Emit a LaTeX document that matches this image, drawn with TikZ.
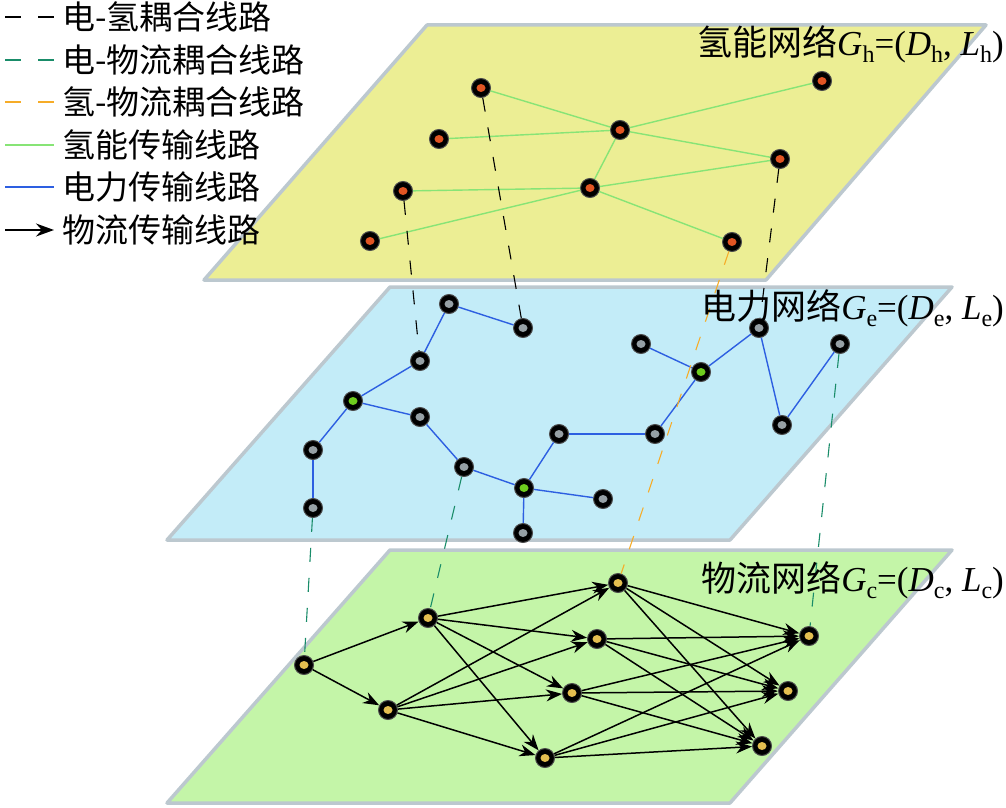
\documentclass[tikz,border=0pt]{standalone}
\usepackage{fontspec}
\setmainfont{Liberation Serif}
\newfontfamily\cjk{Noto Sans CJK SC}
\usetikzlibrary{arrows.meta}
\definecolor{hplane}{RGB}{236,238,148}
\definecolor{eplane}{RGB}{195,236,248}
\definecolor{cplane}{RGB}{196,245,168}
\definecolor{rimgray}{RGB}{188,200,207}
\definecolor{hgreen}{RGB}{135,228,118}
\definecolor{eblue}{RGB}{45,95,225}
\definecolor{tealc}{RGB}{25,140,105}
\definecolor{orangec}{RGB}{246,172,40}
\definecolor{hcore}{RGB}{225,85,35}
\definecolor{ecore}{RGB}{150,160,165}
\definecolor{egreen}{RGB}{110,205,30}
\definecolor{ccore}{RGB}{228,190,80}
\newcommand\lsub[1]{\raisebox{-7pt}{\fontsize{24}{24}\selectfont #1}}
\tikzset{
  plane/.style={draw=rimgray, line width=3.5pt, line join=round},
  dot/.style={circle, fill=black, draw=black!70, line width=1pt, inner sep=0pt, minimum size=19pt,
    path picture={\fill[#1] (path picture bounding box.center) ellipse (4.5pt and 4pt);}},
  hdot/.style={dot=hcore},
  edot/.style={dot=ecore},
  cdot/.style={dot=ccore},
  hline/.style={hgreen, line width=1.4pt},
  eline/.style={eblue, line width=1.4pt},
  cline/.style={black, line width=1.5pt, -{Stealth[length=16pt,width=12pt]}},
  ehlink/.style={black, line width=1.1pt, dash pattern=on 14pt off 16pt},
  eclink/.style={tealc, line width=1.1pt, dash pattern=on 14pt off 16pt},
  hclink/.style={orangec, line width=1.1pt, dash pattern=on 14pt off 16pt},
  lgtext/.style={anchor=west, inner sep=0pt, font=\cjk\fontsize{33}{38}\selectfont},
  netlabel/.style={anchor=east, inner sep=0pt, font=\fontsize{35}{40}\selectfont}
}
\begin{document}
\begin{tikzpicture}[x=1pt,y=-1pt]
\useasboundingbox (0,0) rectangle (1006,808);
\draw[plane, fill=hplane] (427,25) -- (986,25) -- (766,280) -- (204,280) -- cycle;
\draw[plane, fill=eplane] (390,287) -- (952,287) -- (730,540) -- (167,540) -- cycle;
\draw[plane, fill=cplane] (390,550) -- (952,550) -- (730,803) -- (167,803) -- cycle;

\foreach \n/\x/\y in {h1/481/88, h2/822/81, h3/620/130, h4/439/139, h5/780/159,
  h6/590/188, h7/403/191, h8/370/241, h9/732/242}
  \node[hdot] (\n) at (\x,\y) {};
\foreach \n/\x/\y in {e1/449/304, e2/523/328, e3/420/361, e5/420/417, e6/313/450,
  e7/313/508, e8/464/467, e10/603/499, e11/523/533, e12/559/434, e13/655/434,
  e14/641/344, e16/759/328, e17/782/425, e18/840/344}
  \node[edot] (\n) at (\x,\y) {};
\foreach \n/\x/\y in {e4/353/401, e9/524/488, e15/701/372}
  \node[dot=egreen] (\n) at (\x,\y) {};
\foreach \n/\x/\y in {c1/304/665, c2/428/618, c3/388/710, c4/618/583, c5/597/639,
  c6/572/693, c7/545/758, c8/809/636, c9/788/691, c10/762/746}
  \node[cdot] (\n) at (\x,\y) {};

\foreach \a/\b in {h1/h3, h2/h3, h4/h3, h3/h5, h3/h6, h7/h6, h5/h6, h6/h8, h6/h9}
  \draw[hline] (\a) -- (\b);
\foreach \a/\b in {e1/e2, e1/e3, e3/e4, e4/e5, e4/e6, e6/e7, e5/e8, e8/e9, e9/e10,
  e9/e11, e9/e12, e12/e13, e13/e15, e14/e15, e15/e16, e16/e17, e17/e18}
  \draw[eline] (\a) -- (\b);
\foreach \a in {c2,c3}
  \foreach \b in {c4,c5,c6,c7}
    \draw[cline] (\a) -- (\b);
\foreach \a in {c4,c5,c6,c7}
  \foreach \b in {c8,c9,c10}
    \draw[cline] (\a) -- (\b);
\draw[cline] (c1) -- (c2);
\draw[cline] (c1) -- (c3);

\draw[ehlink] (h7) -- (e3);
\draw[ehlink] (h1) -- (e2);
\draw[ehlink] (h5) -- (e16);
\draw[hclink] (h9) -- (c4);
\draw[eclink] (e7) -- (c1);
\draw[eclink] (e8) -- (c2);
\draw[eclink] (e18) -- (c8);

\node[netlabel] (hlab) at (1004,44) {{\cjk 氢能网络}\textit{G}\lsub{h}=(\textit{D}\lsub{h}, \textit{L}\lsub{h})};
\node[netlabel] (elab) at (1004,308) {{\cjk 电力网络}\textit{G}\lsub{e}=(\textit{D}\lsub{e}, \textit{L}\lsub{e})};
\node[netlabel] (clab) at (1004,580) {{\cjk 物流网络}\textit{G}\lsub{c}=(\textit{D}\lsub{c}, \textit{L}\lsub{c})};

\node[lgtext] (lg1) at (62,17) {电-氢耦合线路};
\node[lgtext] (lg2) at (62,60) {电-物流耦合线路};
\node[lgtext] (lg3) at (62,102) {氢-物流耦合线路};
\node[lgtext] (lg4) at (62,145) {氢能传输线路};
\node[lgtext] (lg5) at (62,187) {电力传输线路};
\node[lgtext] (lg6) at (62,230) {物流传输线路};
\draw[ehlink, dash pattern=on 16pt off 17pt] ([xshift=-57pt]lg1.west) -- ([xshift=-8pt]lg1.west);
\draw[eclink, dash pattern=on 16pt off 17pt] ([xshift=-57pt]lg2.west) -- ([xshift=-8pt]lg2.west);
\draw[hclink, dash pattern=on 16pt off 17pt] ([xshift=-57pt]lg3.west) -- ([xshift=-8pt]lg3.west);
\draw[hline, line width=2pt] ([xshift=-57pt]lg4.west) -- ([xshift=-8pt]lg4.west);
\draw[eline, line width=2pt] ([xshift=-57pt]lg5.west) -- ([xshift=-8pt]lg5.west);
\draw[cline, -{Stealth[length=18pt,width=13pt]}] ([xshift=-57pt]lg6.west) -- ([xshift=-8pt]lg6.west);
\end{tikzpicture}
\end{document}
